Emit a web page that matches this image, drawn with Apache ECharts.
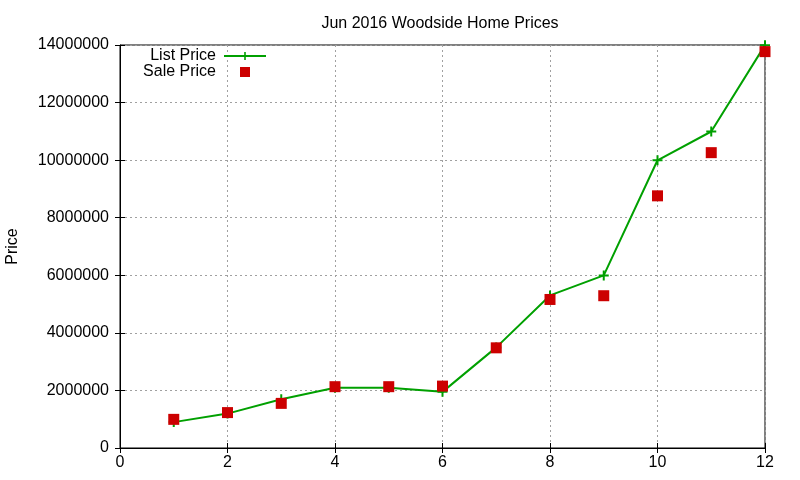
<!DOCTYPE html>
<html>
<head>
<meta charset="utf-8">
<script src="https://cdn.jsdelivr.net/npm/echarts@6/dist/echarts.min.js"></script>
<style>
  html, body { margin: 0; padding: 0; background: #fff; }
  #chart { width: 800px; height: 480px; }
</style>
</head>
<body>
<div id="chart"></div>
<script>
// month index (x) and prices
var months = [1, 2, 3, 4, 5, 6, 7, 8, 9, 10, 11, 12];
var listPrice = [899000, 1195000, 1695000, 2095000, 2095000, 1950000, 3495000, 5300000, 5995000, 9995000, 10995000, 13995000];
var salePrice = [995000, 1230000, 1550000, 2130000, 2130000, 2150000, 3480000, 5160000, 5290000, 8760000, 10260000, 13770000];

var font = 'Liberation Sans, Arial, sans-serif';
var fs = 16;
var green = '#00a000';
var red = '#cc0000';

function pairs(xs, ys) {
  return xs.map(function (x, i) { return [x, ys[i]]; });
}

var chart = echarts.init(document.getElementById('chart'));

var gridLine = { show: true, lineStyle: { color: '#a0a0a0', type: [2, 3], width: 1 } };

var option = {
  animation: false,
  title: {
    text: 'Jun 2016 Woodside Home Prices',
    left: 435,
    textAlign: 'center',
    top: 11,
    textStyle: { fontFamily: font, fontSize: fs, fontWeight: 'normal', color: '#000' }
  },
  legend: {
    orient: 'vertical',
    align: 'right',
    right: 533,
    top: 48,
    padding: 0,
    itemWidth: 42,
    itemHeight: 10,
    itemGap: 0,
    textStyle: { fontFamily: font, fontSize: fs, color: '#000', lineHeight: 16, padding: [0, 3, 0, 0] },
    data: ['List Price', 'Sale Price']
  },
  grid: {
    left: 120,
    right: 35,
    top: 45,
    bottom: 32,
    containLabel: false,
    outerBoundsMode: 'none',
    show: true,
    borderColor: '#000',
    borderWidth: 1
  },
  xAxis: [{
    type: 'value',
    min: 0,
    max: 12,
    interval: 2,
    axisLine: { lineStyle: { color: '#000' } },
    axisTick: { inside: true, length: 5, lineStyle: { color: '#000' } },
    axisLabel: { fontFamily: font, fontSize: fs, color: '#000', margin: 7 },
    splitLine: gridLine
  }, {
    type: 'value',
    position: 'top',
    min: 0,
    max: 12,
    interval: 2,
    axisLine: { show: false },
    axisTick: { inside: true, length: 5, lineStyle: { color: '#000' } },
    axisLabel: { show: false },
    splitLine: { show: false }
  }],
  yAxis: [{
    type: 'value',
    min: 0,
    max: 14000000,
    interval: 2000000,
    name: 'Price',
    nameLocation: 'middle',
    nameGap: 99,
    nameTextStyle: { fontFamily: font, fontSize: fs, color: '#000' },
    axisLine: { show: true, lineStyle: { color: '#000' } },
    axisTick: { show: true, inside: true, length: 5, lineStyle: { color: '#000' } },
    axisLabel: {
      fontFamily: font, fontSize: fs, color: '#000', margin: 11,
      formatter: function (v) { return String(v); }
    },
    splitLine: gridLine
  }, {
    type: 'value',
    position: 'right',
    min: 0,
    max: 14000000,
    interval: 2000000,
    axisLine: { show: false },
    axisTick: { show: true, inside: true, length: 5, lineStyle: { color: '#000' } },
    axisLabel: { show: false },
    splitLine: { show: false }
  }],
  series: [{
    name: 'List Price',
    type: 'line',
    data: pairs(months, listPrice),
    symbol: 'path://M4,0h2v4h4v2h-4v4h-2v-4h-4v-2h4z',
    symbolSize: 10,
    symbolKeepAspect: true,
    showAllSymbol: true,
    lineStyle: { color: green, width: 2 },
    itemStyle: { color: green },
    z: 2
  }, {
    name: 'Sale Price',
    type: 'scatter',
    data: pairs(months, salePrice),
    symbol: 'path://M0,0h10v10h-10z',
    symbolSize: 11,
    symbolKeepAspect: true,
    itemStyle: { color: red, opacity: 1 },
    z: 3
  }]
};

chart.setOption(option);
</script>
</body>
</html>
